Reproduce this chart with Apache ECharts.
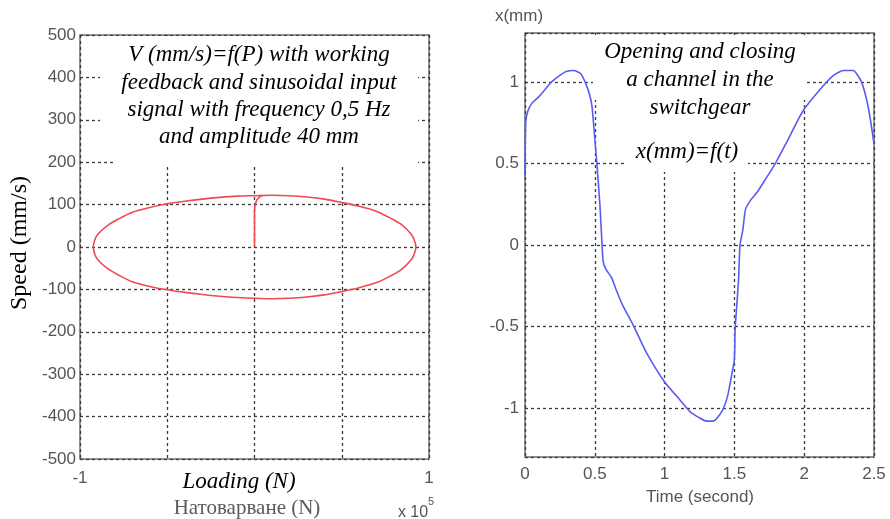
<!DOCTYPE html>
<html>
<head>
<meta charset="utf-8">
<script src="https://cdn.jsdelivr.net/npm/echarts@6/dist/echarts.min.js"></script>
<style>
  html, body { margin: 0; padding: 0; background: #fff; }
  #chart { width: 890px; height: 519px; }
</style>
</head>
<body>
<div id="chart"></div>
<script>
// left panel: speed vs loading (x in units of 1e5 N)
const loadX = [-0.925, -0.915, -0.898, -0.845, -0.78, -0.7, -0.6, -0.5, -0.4, -0.3, -0.2, -0.1, 0, 0.1, 0.2, 0.3, 0.4, 0.5, 0.6, 0.7, 0.78, 0.845, 0.898, 0.915, 0.925,
  0.915, 0.898, 0.845, 0.78, 0.7, 0.6, 0.5, 0.4, 0.3, 0.2, 0.1, 0, -0.1, -0.2, -0.3, -0.4, -0.5, -0.6, -0.7, -0.78, -0.845, -0.898, -0.915, -0.925];
const speedV = [0, 17, 30, 50, 66, 82, 93, 102, 108, 113, 117, 120, 121, 122, 121, 118, 113, 105, 96, 84, 68, 52, 30, 17, 0,
  -17, -30, -52, -68, -84, -96, -105, -113, -118, -121, -122, -121, -119, -116, -112, -107, -101, -93, -82, -66, -50, -30, -17, 0];
// start-up stroke from the origin
const stemX = [0, 0, 0.01, 0.03, 0.05];
const stemV = [0, 85, 108, 118, 122];

// right panel: x(mm) vs time
const timeT = [0, 0.005, 0.02, 0.05, 0.1, 0.15, 0.19, 0.25, 0.3, 0.35, 0.4, 0.43, 0.46, 0.48, 0.5, 0.515, 0.537, 0.552, 0.56, 0.58, 0.62,
  0.66, 0.7, 0.78, 0.87, 1.0, 1.11, 1.18, 1.25, 1.3, 1.35, 1.41, 1.45, 1.48, 1.5, 1.505, 1.53, 1.54, 1.56, 1.58, 1.62, 1.66, 1.72, 1.78,
  1.88, 1.99, 2.11, 2.21, 2.28, 2.35, 2.41, 2.46, 2.5];
const posX = [0.42, 0.75, 0.82, 0.87, 0.91, 0.96, 1.0, 1.04, 1.065, 1.07, 1.05, 1.0, 0.93, 0.85, 0.65, 0.5, 0.24, 0, -0.1, -0.15, -0.2,
  -0.29, -0.37, -0.5, -0.66, -0.84, -0.95, -1.02, -1.06, -1.08, -1.08, -1.02, -0.93, -0.8, -0.7, -0.52, -0.21, 0, 0.09, 0.22, 0.28, 0.32, 0.4, 0.48,
  0.64, 0.82, 0.95, 1.04, 1.07, 1.07, 1.0, 0.84, 0.62];

const leftXShown = [-1, 1];

const grey = '#555';
const sans = '"Liberation Sans", Arial, sans-serif';
const serif = '"Liberation Serif", "Times New Roman", serif';
const gridLine = { show: true, lineStyle: { color: '#3a3a3a', type: [3, 3], width: 1.3 } };

let myChart = echarts.init(document.getElementById('chart'));

function pairs(xs, ys) {
  return xs.map((x, i) => [x, ys[i]]);
}

function box(x, y, w, h) {
  return { type: 'rect', z: 1, shape: { x: x, y: y, width: w, height: h }, style: { fill: '#fff' } };
}

function label(text, x, y, font, fill, extra) {
  return Object.assign({
    type: 'text', z: 10, x: x, y: y,
    style: { text: text, font: font, fill: fill || '#000', textAlign: 'center', textVerticalAlign: 'middle' }
  }, extra || {});
}

const italic = 'italic 23px ' + serif;

myChart.setOption({
  animation: false,
  grid: [
    { left: 80, top: 35, width: 349, height: 424, show: true, borderColor: '#707070', borderWidth: 1.5 },
    { left: 525, top: 33, width: 349, height: 424, show: true, borderColor: '#707070', borderWidth: 1.5 }
  ],
  xAxis: [
    {
      gridIndex: 0, type: 'value', min: -1, max: 1, interval: 0.5,
      axisLine: { show: false }, axisTick: { show: false }, splitLine: gridLine,
      axisLabel: {
        color: grey, fontSize: 17, fontFamily: sans, margin: 11,
        formatter: function (val) { return leftXShown.indexOf(val) >= 0 ? String(val) : ''; }
      }
    },
    {
      gridIndex: 1, type: 'value', min: 0, max: 2.5, interval: 0.5,
      axisLine: { show: false }, axisTick: { show: false }, splitLine: gridLine,
      axisLabel: { color: grey, fontSize: 17, fontFamily: sans, margin: 9 }
    }
  ],
  yAxis: [
    {
      gridIndex: 0, type: 'value', min: -500, max: 500, interval: 100,
      axisLine: { show: false }, axisTick: { show: false }, splitLine: gridLine,
      axisLabel: { color: grey, fontSize: 17, fontFamily: sans, margin: 4 }
    },
    {
      gridIndex: 1, type: 'value', min: -1.3, max: 1.3, splitNumber: 5,
      axisLine: { show: false }, axisTick: { show: false }, splitLine: gridLine,
      axisLabel: { color: grey, fontSize: 17, fontFamily: sans, margin: 6, showMinLabel: false, showMaxLabel: false }
    }
  ],
  series: [
    {
      type: 'line', xAxisIndex: 0, yAxisIndex: 0, z: 5, data: pairs(loadX, speedV),
      showSymbol: false, smooth: 0.3, lineStyle: { color: '#ee4a52', width: 1.6 }
    },
    {
      type: 'line', xAxisIndex: 0, yAxisIndex: 0, z: 5, data: pairs(stemX, stemV),
      showSymbol: false, smooth: 0.3, lineStyle: { color: '#ee4a52', width: 1.6 }
    },
    {
      type: 'line', xAxisIndex: 1, yAxisIndex: 1, z: 5, data: pairs(timeT, posX),
      showSymbol: false, smooth: 0.2, lineStyle: { color: '#5a5cf0', width: 1.6 }
    }
  ],
  graphic: [
    // white boxes behind the annotations
    box(100, 36, 318, 123),
    box(115, 159, 303, 6),
    box(593, 35, 213, 65),
    box(625, 100, 123, 72),
    // left annotations
    label('V (mm/s)=f(P) with working', 259, 55, italic),
    label('feedback and sinusoidal input', 259, 83, italic),
    label('signal with frequency 0,5 Hz', 259, 110, italic),
    label('and amplitude 40 mm', 259, 137, italic),
    label('Speed (mm/s)', 20, 243, '24px ' + serif, '#000', { rotation: Math.PI / 2 }),
    label('Loading (N)', 239, 482, italic),
    label('Натоварване (N)', 247, 508, '21px ' + serif, '#5a5a5a'),
    label('x 10', 413, 513, '16px ' + sans, grey),
    label('5', 431, 502, '11px ' + sans, grey),
    // right annotations
    label('Opening and closing', 700, 52, italic),
    label('a channel in the', 700, 80, italic),
    label('switchgear', 700, 108, italic),
    label('x(mm)=f(t)', 687, 152, italic),
    label('x(mm)', 519, 16, '17px ' + sans, grey),
    label('Time (second)', 700, 497, '17px ' + sans, grey)
  ]
});
</script>
</body>
</html>
